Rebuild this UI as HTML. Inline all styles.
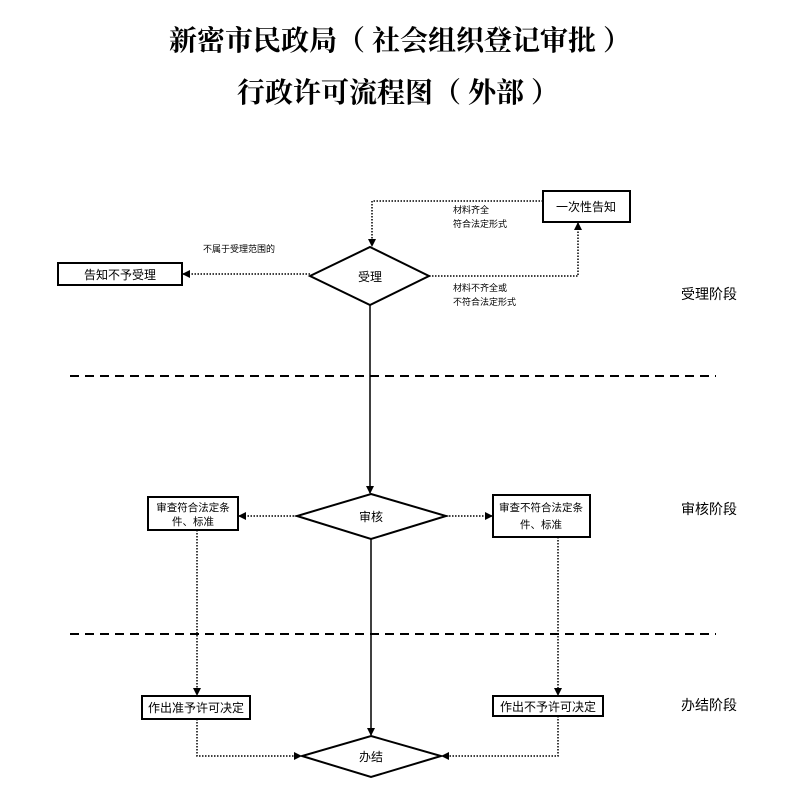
<!DOCTYPE html>
<html><head><meta charset="utf-8"><style>
html,body{margin:0;padding:0;background:#fff;}
svg{display:block;}
text{font-family:"Liberation Sans","Noto Sans CJK SC",sans-serif;fill:#000;}
.t{font-family:"Liberation Serif","Noto Serif CJK SC",serif;font-weight:bold;font-size:28px;}
</style></head><body>
<svg width="800" height="800" viewBox="0 0 800 800" xmlns="http://www.w3.org/2000/svg">
<defs>
<marker id="a" markerWidth="8" markerHeight="8" refX="7" refY="4" orient="auto" markerUnits="userSpaceOnUse"><path d="M0,0 L8,4 L0,8 z" fill="#000"/></marker>
</defs>
<text class="t" x="400" y="50" text-anchor="middle">新密市民政局（ 社会组织登记审批 ）</text>
<text class="t" x="398" y="102" text-anchor="middle">行政许可流程图（ 外部 ）</text>

<g stroke="#000" fill="none">
<line x1="70" y1="376" x2="716" y2="376" stroke-width="2" stroke-dasharray="9,6"/>
<line x1="70" y1="634" x2="716" y2="634" stroke-width="2" stroke-dasharray="9,6"/>

<polygon points="370,247 429,276 370,305 310,276" stroke-width="2" fill="#fff"/>
<rect x="543" y="191" width="87" height="31" stroke-width="2"/>
<rect x="58" y="263" width="124" height="22" stroke-width="2"/>
<polygon points="371,494 446,516 371,539 297,516" stroke-width="2" fill="#fff"/>
<rect x="148" y="497" width="90" height="33" stroke-width="2"/>
<rect x="493" y="495" width="97" height="42" stroke-width="2"/>
<rect x="142" y="696" width="108" height="23" stroke-width="2"/>
<rect x="493" y="696" width="110" height="20" stroke-width="2"/>
<polygon points="371,736 441,756 371,777 302,756" stroke-width="2" fill="#fff"/>

<line x1="370" y1="305" x2="370" y2="493" stroke-width="1.5" marker-end="url(#a)"/>
<line x1="371" y1="539" x2="371" y2="735" stroke-width="1.5" marker-end="url(#a)"/>

<g stroke-width="1.5" stroke-dasharray="1.5,1.5">
<polyline points="543,201 372,201 372,246" marker-end="url(#a)"/>
<polyline points="429,276 578,276 578,223" marker-end="url(#a)"/>
<line x1="310" y1="274" x2="183" y2="274" marker-end="url(#a)"/>
<line x1="297" y1="516" x2="239" y2="516" marker-end="url(#a)"/>
<line x1="446" y1="516" x2="492" y2="516" marker-end="url(#a)"/>
<line x1="197" y1="530" x2="197" y2="695" marker-end="url(#a)"/>
<line x1="558" y1="537" x2="558" y2="695" marker-end="url(#a)"/>
<polyline points="197,719 197,756 301,756" marker-end="url(#a)"/>
<polyline points="558,716 558,756 442,756" marker-end="url(#a)"/>
</g>
</g>

<g font-size="12">
<text x="370" y="281" text-anchor="middle">受理</text>
<text x="586" y="211" text-anchor="middle">一次性告知</text>
<text x="120" y="279" text-anchor="middle">告知不予受理</text>
<text x="371" y="521" text-anchor="middle">审核</text>
<text x="371" y="761" text-anchor="middle">办结</text>
<text x="196" y="712" text-anchor="middle">作出准予许可决定</text>
<text x="548" y="711" text-anchor="middle">作出不予许可决定</text>
</g>
<g font-size="10.5">
<text x="193" y="511" text-anchor="middle">审查符合法定条</text>
<text x="193" y="525" text-anchor="middle">件、标准</text>
<text x="541" y="511" text-anchor="middle">审查不符合法定条</text>
<text x="541" y="528" text-anchor="middle">件、标准</text>
</g>
<g font-size="9">
<text x="203" y="252">不属于受理范围的</text>
<text x="453" y="213">材料齐全</text>
<text x="453" y="227">符合法定形式</text>
<text x="453" y="291">材料不齐全或</text>
<text x="453" y="305">不符合法定形式</text>
</g>
<g font-size="14">
<text x="681" y="299">受理阶段</text>
<text x="681" y="514">审核阶段</text>
<text x="681" y="710">办结阶段</text>
</g>
</svg>
</body></html>
